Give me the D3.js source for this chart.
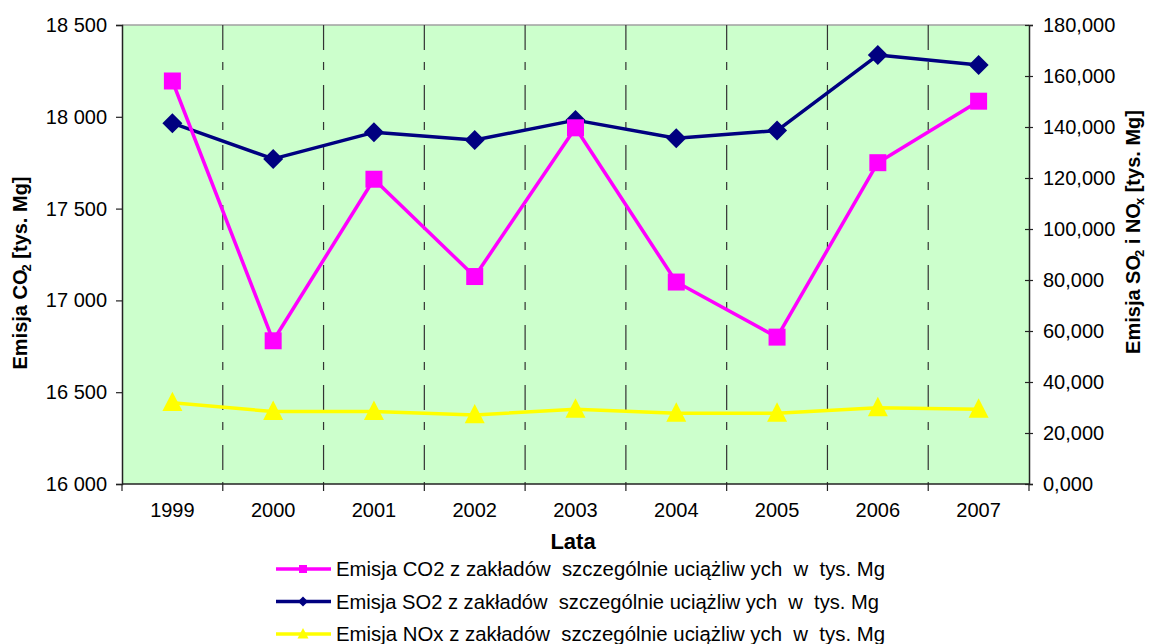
<!DOCTYPE html>
<html>
<head>
<meta charset="utf-8">
<script src="https://cdn.jsdelivr.net/npm/d3@7"></script>
<style>
  html, body { margin: 0; padding: 0; background: #ffffff; }
  svg { display: block; font-family: Arial, "Liberation Sans", sans-serif; }
  .pre { white-space: pre; }
</style>
</head>
<body>
<svg id="chart" width="1150" height="644"></svg>
<script>
// ---- data ----
const years = ["1999", "2000", "2001", "2002", "2003", "2004", "2005", "2006", "2007"];
const co2 = [18195, 16780, 17660, 17130, 17940, 17100, 16800, 17750, 18085];
const so2 = [141.5, 127.5, 137.9, 134.9, 142.7, 135.6, 138.6, 168.2, 164.3];
const nox = [31.9, 28.4, 28.4, 27.1, 29.3, 27.7, 27.7, 29.9, 29.3];
const leftTicks = [16000, 16500, 17000, 17500, 18000, 18500];
const rightTicks = [0, 20, 40, 60, 80, 100, 120, 140, 160, 180];
const legendLabels = [
  "Emisja CO2 z zakładów  szczególnie uciążliw ych  w  tys. Mg",
  "Emisja SO2 z zakładów  szczególnie uciążliw ych  w  tys. Mg",
  "Emisja NOx z zakładów  szczególnie uciążliw ych  w  tys. Mg"
];
const xTitle = "Lata";

// ---- layout ----
const L = 122, R = 1029, T = 25, B = 484;
const svg = d3.select("#chart");

const x = d3.scaleBand().domain(years).range([L, R]).padding(0);
const yL = d3.scaleLinear().domain([16000, 18500]).range([B, T]);
const yR = d3.scaleLinear().domain([0, 180]).range([B, T]);
const cx = d => x(d) + x.bandwidth() / 2;

const fmtLeft = v => d3.format(",")(v).replace(/,/g, " ");
const fmtRight = v => d3.format(".3f")(v).replace(".", ",");

// plot background
svg.append("rect").attr("x", L).attr("y", T).attr("width", R - L).attr("height", B - T)
  .attr("fill", "#CCFFCC");
// top border (gray)
svg.append("line").attr("x1", L).attr("x2", R).attr("y1", T).attr("y2", T)
  .attr("stroke", "#a0a0a0").attr("stroke-width", 1.5);

// dashed vertical gridlines at category boundaries
const bounds = years.slice(1).map(d => x(d));
svg.append("g").selectAll("line").data(bounds).join("line")
  .attr("x1", d => d).attr("x2", d => d).attr("y1", T).attr("y2", B)
  .attr("stroke", "#333").attr("stroke-width", 1.2)
  .attr("stroke-dasharray", "25,12,8,15");

// bottom axis
const xAxisG = svg.append("g").attr("transform", `translate(0,${B})`);
xAxisG.append("line").attr("x1", L).attr("x2", R).attr("y1", 0).attr("y2", 0)
  .attr("stroke", "#222").attr("stroke-width", 1.5);
xAxisG.selectAll("line.tk").data([L, ...bounds, R]).join("line").attr("class", "tk")
  .attr("x1", d => d).attr("x2", d => d).attr("y1", 0).attr("y2", 7)
  .attr("stroke", "#222").attr("stroke-width", 1.2);
xAxisG.selectAll("text").data(years).join("text")
  .attr("x", d => cx(d)).attr("y", 33).attr("text-anchor", "middle")
  .attr("font-size", 20).attr("fill", "#000").text(d => d);

// left axis
const yLAxis = svg.append("g").attr("transform", `translate(${L},0)`)
  .call(d3.axisLeft(yL).tickValues(leftTicks).tickFormat(fmtLeft).tickSize(6).tickPadding(9));
yLAxis.select(".domain").attr("stroke", "#222").attr("stroke-width", 1.5);
yLAxis.selectAll(".tick line").attr("stroke", "#222").attr("stroke-width", 1.2);
yLAxis.selectAll(".tick text").attr("font-size", 20).attr("fill", "#000")
  .attr("font-family", "Arial, 'Liberation Sans', sans-serif");

// right axis (cross ticks)
const yRAxis = svg.append("g").attr("transform", `translate(${R},0)`)
  .call(d3.axisRight(yR).tickValues(rightTicks).tickFormat(fmtRight).tickSize(4).tickPadding(10));
yRAxis.select(".domain").attr("stroke", "#222").attr("stroke-width", 1.5);
yRAxis.selectAll(".tick line").attr("x1", -4).attr("stroke", "#222").attr("stroke-width", 1.2);
yRAxis.selectAll(".tick text").attr("font-size", 20).attr("fill", "#000")
  .attr("font-family", "Arial, 'Liberation Sans', sans-serif");

// axis titles
const lt = svg.append("text").attr("transform", "translate(27,273) rotate(-90)")
  .attr("text-anchor", "middle").attr("font-size", 20).attr("font-weight", "bold");
lt.append("tspan").text("Emisja CO");
lt.append("tspan").attr("font-size", 13).attr("dy", 4).attr("dx", -2).text("2");
lt.append("tspan").attr("dy", -4).text(" [tys. Mg]");

const rt = svg.append("text").attr("transform", "translate(1140,232) rotate(-90)")
  .attr("text-anchor", "middle").attr("font-size", 20).attr("font-weight", "bold");
rt.append("tspan").text("Emisja SO");
rt.append("tspan").attr("font-size", 13).attr("dy", 4).attr("dx", -2).text("2");
rt.append("tspan").attr("dy", -4).text(" i NO");
rt.append("tspan").attr("font-size", 13).attr("dy", 4).attr("dx", -2).text("x");
rt.append("tspan").attr("dy", -4).text(" [tys. Mg]");

svg.append("text").attr("x", 573).attr("y", 549).attr("text-anchor", "middle")
  .attr("font-size", 22).attr("font-weight", "bold").text(xTitle);

// ---- series ----
const series = [
  { vals: co2, y: yL, color: "#FF00FF", shape: "square" },
  { vals: so2, y: yR, color: "#000080", shape: "diamond" },
  { vals: nox, y: yR, color: "#FFFF00", shape: "triangle" }
];

function markerPath(shape, s) {
  if (shape === "square") return `M${-s/2},${-s/2}h${s}v${s}h${-s}Z`;
  if (shape === "diamond") return `M0,${-s/2}L${s/2},0L0,${s/2}L${-s/2},0Z`;
  return `M0,${-s*0.55}L${s/2},${s*0.42}L${-s/2},${s*0.42}Z`;
}
const markerSize = { square: 17, diamond: 20, triangle: 20 };
const legendMarkerSize = { square: 8, diamond: 10, triangle: 11 };

// draw in order: nox, so2, co2 (co2 on top)
[series[2], series[1], series[0]].forEach(s => {
  const line = d3.line().x((v, i) => cx(years[i])).y(v => s.y(v));
  svg.append("path").datum(s.vals).attr("d", line)
    .attr("fill", "none").attr("stroke", s.color).attr("stroke-width", 3.5)
    .attr("stroke-linejoin", "round");
  svg.append("g").selectAll("path").data(s.vals).join("path")
    .attr("transform", (v, i) => `translate(${cx(years[i])},${s.y(v)})`)
    .attr("d", markerPath(s.shape, markerSize[s.shape]))
    .attr("fill", s.color);
});

// ---- legend ----
const legRowsY = [569, 601.5, 634];
const legWidths = [549, 543, 549];
series.forEach((s, i) => {
  const g = svg.append("g").attr("transform", `translate(0,${legRowsY[i]})`);
  g.append("line").attr("x1", 276).attr("x2", 331).attr("y1", 0).attr("y2", 0)
    .attr("stroke", s.color).attr("stroke-width", 3.5);
  g.append("path").attr("transform", "translate(303,0)")
    .attr("d", markerPath(s.shape, legendMarkerSize[s.shape])).attr("fill", s.color);
  g.append("text").attr("class", "pre").attr("x", 336).attr("y", 7)
    .attr("font-size", 20.5).attr("textLength", legWidths[i])
    .attr("lengthAdjust", "spacingAndGlyphs").text(legendLabels[i]);
});
</script>
</body>
</html>
